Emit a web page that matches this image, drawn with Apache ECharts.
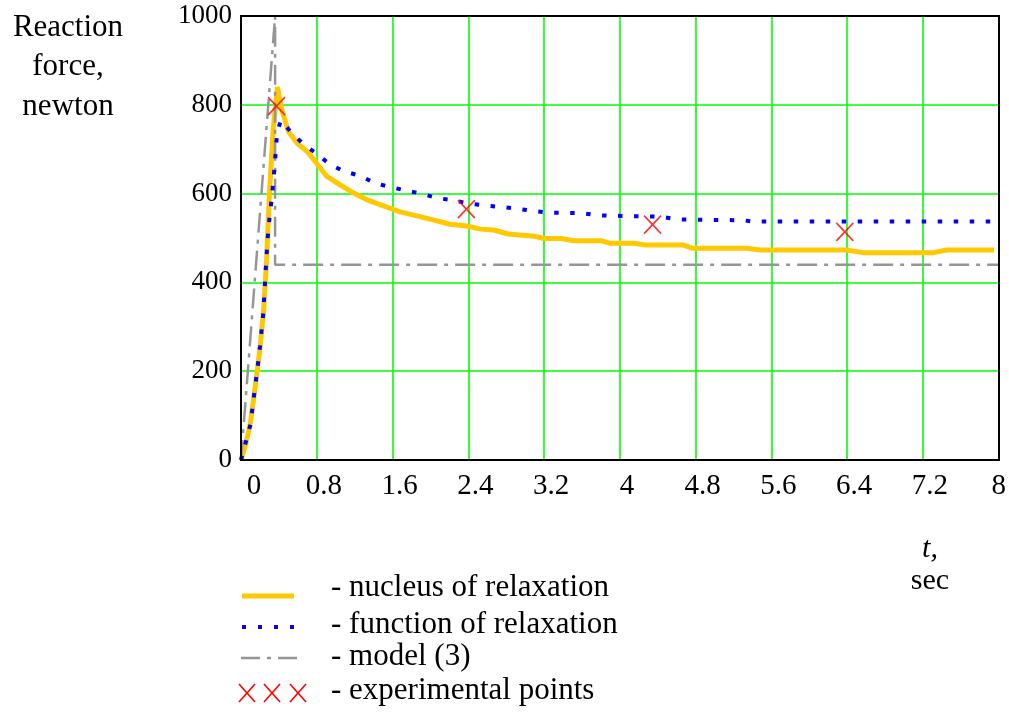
<!DOCTYPE html>
<html lang="en">

<head>
    <meta charset="UTF-8">
    <title>reaction force relaxation</title>
    <script src="https://cdn.jsdelivr.net/npm/echarts@6/dist/echarts.min.js"></script>
    <style>
        html,
        body {
            margin: 0;
            padding: 0;
            background: #fff;
        }
        #main {
            width: 1009px;
            height: 713px;
        }
    </style>
</head>

<body>
    <div id="main"></div>
    <script>
        // nucleus of relaxation, [t sec, force N]
        var nucleus = [
            [0, 0], [0.05, 35], [0.1, 85], [0.15, 165], [0.2, 250], [0.24, 340], [0.27, 450],
            [0.3, 600], [0.34, 745], [0.385, 840], [0.43, 790], [0.5, 740], [0.6, 712],
            [0.7, 695], [0.8, 668], [0.9, 640], [1.05, 619], [1.2, 600], [1.33, 586],
            [1.68, 559], [1.89, 548], [2.21, 531], [2.38, 527], [2.53, 520], [2.67, 518],
            [2.82, 509], [3.1, 504], [3.2, 499], [3.38, 499], [3.52, 494], [3.8, 494],
            [3.9, 488], [4.15, 488], [4.28, 484], [4.67, 484], [4.76, 477], [5.34, 477],
            [5.48, 473], [6.39, 473], [6.57, 467], [7.31, 467], [7.45, 473], [7.95, 473]
        ];
        // function of relaxation
        var relaxFn = [
            [0, 0], [0.05, 40], [0.1, 80], [0.14, 150], [0.17, 200], [0.2, 255], [0.235, 330],
            [0.256, 410], [0.278, 490], [0.3, 543], [0.325, 590], [0.355, 660], [0.38, 735],
            [0.42, 765], [0.535, 737], [0.66, 711], [0.8, 690], [0.93, 667], [1.09, 650],
            [1.26, 640], [1.41, 624], [1.57, 615], [1.74, 607], [1.9, 600], [2.07, 590],
            [2.24, 585], [2.42, 577], [2.58, 573], [2.75, 570], [2.92, 566], [3.08, 561],
            [3.25, 557], [3.6, 556], [3.77, 551], [3.94, 550], [4.43, 548], [4.61, 542],
            [4.78, 541], [5.3, 540], [5.4, 537], [8, 537]
        ];
        // model (3)
        var model3 = [[0, 0], [0.36, 1000], [0.36, 440], [8, 440]];
        // experimental points
        var expPoints = [[0.375, 797], [2.38, 565], [4.345, 530], [6.375, 514]];

        var legendNames = [
            '- nucleus of relaxation',
            '- function of relaxation',
            '- model (3)',
            '- experimental points'
        ];
        var yTitle = ['Reaction', 'force,', 'newton'];

        var serif = '"Liberation Serif", "Times New Roman", serif';
        var yellow = '#ffc800';
        var blue = '#0000ff';
        var gray = '#969696';
        var red = '#ff0000';
        var green = '#00ff00';

        // plot box in pixels
        var box = { x: 241, y: 16, w: 758, h: 444 };

        var myChart = echarts.init(document.getElementById('main'));

        // legend drawn by hand so the icons look like the original
        var graphics = [
            { type: 'line', shape: { x1: 242, y1: 596, x2: 294, y2: 596 }, style: { stroke: yellow, lineWidth: 5 } },
            { type: 'line', shape: { x1: 242, y1: 627, x2: 294, y2: 627 }, style: { stroke: blue, lineWidth: 4, lineDash: [4, 12] } },
            { type: 'line', shape: { x1: 241, y1: 658, x2: 298, y2: 658 }, style: { stroke: gray, lineWidth: 2.5, lineDash: [19, 7, 4, 7] } }
        ];
        [247, 272, 298].forEach(function (cx) {
            graphics.push({ type: 'line', shape: { x1: cx - 8, y1: 684, x2: cx + 8, y2: 702 }, style: { stroke: red, lineWidth: 1.6 } });
            graphics.push({ type: 'line', shape: { x1: cx + 8, y1: 684, x2: cx - 8, y2: 702 }, style: { stroke: red, lineWidth: 1.6 } });
        });
        var rowY = [588, 625, 657, 691];
        legendNames.forEach(function (name, i) {
            graphics.push({
                type: 'text', x: 331, y: rowY[i],
                style: { text: name, fontSize: 31, fontFamily: serif, fill: '#000', verticalAlign: 'middle' }
            });
        });
        // axis titles
        graphics.push({
            type: 'text', x: 68, y: 8,
            style: { text: yTitle.join('\n'), fontSize: 31, fontFamily: serif, fill: '#000', align: 'center', verticalAlign: 'top', lineHeight: 39.5 }
        });
        graphics.push({
            type: 'text', x: 930, y: 549,
            style: { text: 't,', fontSize: 30, fontStyle: 'italic', fontFamily: serif, fill: '#000', align: 'center', verticalAlign: 'middle' }
        });
        graphics.push({
            type: 'text', x: 930, y: 581,
            style: { text: 'sec', fontSize: 30, fontFamily: serif, fill: '#000', align: 'center', verticalAlign: 'middle' }
        });
        // black frame on top
        graphics.push({
            type: 'rect', z: 100,
            shape: { x: box.x, y: box.y, width: box.w, height: box.h },
            style: { fill: 'none', stroke: '#000', lineWidth: 2 }
        });

        var option = {
            animation: false,
            backgroundColor: '#fff',
            grid: {
                left: box.x,
                right: 1009 - box.x - box.w,
                top: box.y,
                bottom: 713 - box.y - box.h
            },
            xAxis: {
                type: 'value',
                min: 0,
                max: 8,
                interval: 0.8,
                axisLine: { show: false },
                axisTick: { show: false },
                splitLine: { show: true, lineStyle: { color: green, width: 1.6 } },
                axisLabel: {
                    margin: 12,
                    color: '#000',
                    fontSize: 29,
                    fontFamily: serif,
                    formatter: function (v) {
                        var s = String(Math.round(v * 10) / 10);
                        if (v === 0) return '{z|' + s + '}';
                        if (v >= 8) return '{e|' + s + '}';
                        return '{n|' + s + '}';
                    },
                    rich: {
                        z: { fontSize: 29, fontFamily: serif, color: '#000', padding: [0, 0, 0, 26] },
                        e: { fontSize: 29, fontFamily: serif, color: '#000', padding: [0, 0, 0, 0] },
                        n: { fontSize: 29, fontFamily: serif, color: '#000', padding: [0, 0, 0, 14] }
                    }
                }
            },
            yAxis: {
                type: 'value',
                min: 0,
                max: 1000,
                interval: 200,
                axisLine: { show: false },
                axisTick: { show: false },
                splitLine: { show: true, lineStyle: { color: green, width: 1.6 } },
                axisLabel: {
                    margin: 9,
                    color: '#000',
                    fontSize: 27,
                    fontFamily: serif,
                    padding: [8, 0, 0, 0],
                    formatter: function (v) {
                        return String(v);
                    }
                }
            },
            graphic: graphics,
            series: [
                {
                    name: legendNames[0],
                    type: 'line',
                    data: nucleus,
                    showSymbol: false,
                    symbol: 'none',
                    z: 2,
                    lineStyle: { color: yellow, width: 5 }
                },
                {
                    name: legendNames[2],
                    type: 'line',
                    data: model3,
                    showSymbol: false,
                    symbol: 'none',
                    z: 3,
                    lineStyle: { color: gray, width: 2.5, type: [20, 7, 4, 7] }
                },
                {
                    name: legendNames[1],
                    type: 'line',
                    data: relaxFn,
                    showSymbol: false,
                    symbol: 'none',
                    z: 4,
                    lineStyle: { color: blue, width: 4, type: [4.5, 11.5], cap: 'butt' }
                },
                {
                    name: legendNames[3],
                    type: 'scatter',
                    data: expPoints,
                    symbol: 'path://M0,0L10,10M10,0L0,10',
                    symbolSize: [17, 18],
                    z: 5,
                    itemStyle: { color: 'transparent', borderColor: red, borderWidth: 1.7 }
                }
            ]
        };
        myChart.setOption(option);
    </script>
</body>

</html>
